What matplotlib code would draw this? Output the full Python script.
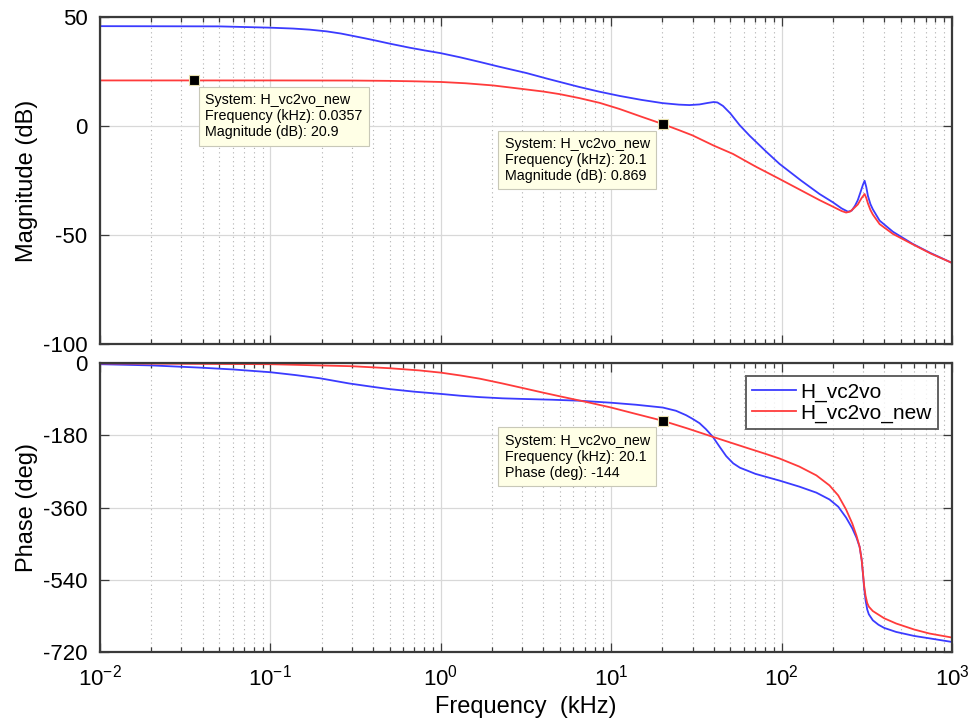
import numpy as np
import matplotlib
matplotlib.use("Agg")
import matplotlib.pyplot as plt
from matplotlib.ticker import LogLocator, NullFormatter, FixedLocator

plt.rcParams['font.family'] = ['Liberation Sans', 'DejaVu Sans']
plt.rcParams['mathtext.fontset'] = 'custom'
plt.rcParams['mathtext.rm'] = 'Liberation Sans'
plt.rcParams['axes.unicode_minus'] = False

# --- magnitude data (kHz, dB) ---
f_mag_old = [0.01, 0.05, 0.1, 0.136, 0.17, 0.214, 0.26, 0.306, 0.36, 0.42, 0.5, 0.658, 0.8,
             1, 1.3, 1.69, 2.2, 3.18, 4.17, 5, 6.5, 8.57, 11.2, 15, 20, 25, 28.8, 33, 37, 40,
             42, 45.3, 50, 56.7, 65, 81.3, 97.3, 130, 167, 200, 225, 245, 258, 270, 280, 290,
             300, 307, 314, 321, 332, 343, 376, 450, 589, 750, 1000]
mag_old = [45.8, 45.7, 45.1, 44.7, 44.2, 43.4, 42.4, 41.3, 40.2, 39.1, 37.8, 35.9, 34.7,
           33.4, 31.5, 29.4, 27.2, 24.3, 21.8, 20.2, 17.9, 15.7, 13.8, 12.0, 10.5, 9.8, 9.6,
           9.9, 10.6, 11.0, 10.8, 9.2, 5.8, 0.4, -4.5, -11.8, -17.4, -25.0, -31.2, -35.0,
           -37.8, -39.3, -38.8, -36.5, -34.0, -30.5, -27.0, -25.1, -28.0, -32.0, -35.8, -38.2,
           -43.4, -48.5, -54.1, -58.3, -62.8]

f_mag_new = [0.01, 0.0357, 0.1, 0.3, 0.5, 0.7, 1, 1.4, 2.03, 3, 4, 5, 6.5, 8.57, 11.2, 15,
             20.1, 25, 30, 40, 51.8, 70, 97.3, 130, 167, 200, 225, 239, 252, 265, 280, 295,
             307, 314, 321, 332, 343, 376, 450, 589, 750, 1000]
mag_new = [20.9, 20.9, 20.9, 20.85, 20.7, 20.5, 20.2, 19.6, 18.6, 17.0, 15.8, 14.6, 12.8,
           10.6, 7.8, 4.3, 0.87, -1.9, -4.3, -9.0, -12.8, -18.5, -24.3, -29.5, -34.0, -37.0,
           -39.0, -39.7, -39.3, -37.8, -36.0, -33.0, -31.2, -33.0, -35.5, -38.5, -40.6, -45.0,
           -49.5, -54.3, -58.5, -62.8]

# --- phase data (kHz, deg) ---
f_ph_old = [0.01, 0.02, 0.0386, 0.06, 0.1, 0.14, 0.195, 0.29, 0.4, 0.5, 0.7, 1, 1.3, 1.69,
            2.3, 3, 4.5, 6.53, 10, 14, 20.1, 24, 27.5, 30, 33, 36, 39.5, 43, 47.3, 52, 57, 62,
            70, 80, 97.3, 127, 160, 191, 215, 239, 260, 275, 287, 295, 300, 305, 311, 318,
            325, 343, 370, 400, 470, 600, 738, 1000]
ph_old = [-3, -6, -11.5, -16, -23, -30, -38, -51, -59.5, -65, -71.5, -77, -81.5, -85, -88,
          -89.5, -91.5, -94, -99, -104, -111, -119, -130, -139, -150, -165, -184, -207, -232,
          -250, -261, -267, -276, -283, -293, -308, -323, -340, -358, -385, -412, -435, -458,
          -490, -524, -560, -591, -614, -626, -641, -652, -660, -670, -680, -686, -695]

f_ph_new = [0.01, 0.1, 0.3, 0.5, 0.75, 1, 1.3, 1.69, 2.3, 3, 4, 5, 7.5, 10, 14, 20.1, 28,
            39.5, 60, 80, 97.3, 127, 160, 191, 215, 239, 260, 275, 287, 295, 300, 305, 311,
            318, 325, 343, 400, 470, 600, 738, 1000]
ph_new = [-1, -3, -8, -13, -18.5, -24, -31, -39, -51, -62, -74, -83, -99, -111, -127, -144,
          -163, -184, -209, -226, -238, -258, -280, -305, -330, -365, -400, -430, -458, -490,
          -522, -555, -580, -598, -607, -618, -636, -649, -664, -674, -684]

# datatips
tip_f = [0.0357, 20.1, 20.1]
tip_v = [20.9, 0.869, -144]
tip_txt = ["System: H_vc2vo_new\nFrequency (kHz): 0.0357\nMagnitude (dB): 20.9",
           "System: H_vc2vo_new\nFrequency (kHz): 20.1\nMagnitude (dB): 0.869",
           "System: H_vc2vo_new\nFrequency (kHz): 20.1\nPhase (deg): -144"]

blue = '#3b3bff'
red = '#ff3b3b'
frame = '#3a3a3a'

fig = plt.figure(figsize=(9.72, 7.19), dpi=100)
ax1 = fig.add_axes([100 / 972, 1 - 344 / 719, 852 / 972, 327 / 719])
ax2 = fig.add_axes([100 / 972, 1 - 652 / 719, 852 / 972, 289 / 719])

ax1.plot(f_mag_old, mag_old, color=blue, lw=1.3, label='H_vc2vo')
ax1.plot(f_mag_new, mag_new, color=red, lw=1.3, label='H_vc2vo_new')
ax2.plot(f_ph_old, ph_old, color=blue, lw=1.3, label='H_vc2vo')
ax2.plot(f_ph_new, ph_new, color=red, lw=1.3, label='H_vc2vo_new')

for ax in (ax1, ax2):
    ax.set_xscale('log')
    ax.set_xlim(0.01, 1000)
    ax.xaxis.set_major_locator(LogLocator(base=10, numticks=12))
    ax.xaxis.set_minor_locator(LogLocator(base=10, subs=np.arange(2, 10), numticks=12))
    ax.xaxis.set_minor_formatter(NullFormatter())
    ax.grid(True, which='major', color='#d8d8d8', lw=0.9, ls='-')
    ax.grid(True, which='minor', axis='x', color='#b0b0b0', lw=0.8, ls=(0, (1, 3)))
    ax.set_axisbelow(True)
    ax.tick_params(which='both', direction='in', top=True, right=True, colors=frame,
                   labelcolor='black', labelsize=16, pad=9)
    ax.tick_params(which='major', length=6.5, width=0.9)
    ax.tick_params(which='minor', length=3.5, width=0.9)
    for s in ax.spines.values():
        s.set_color(frame)
        s.set_linewidth(1.6)

ax1.set_ylim(-100, 50)
ax1.yaxis.set_major_locator(FixedLocator([-100, -50, 0, 50]))
ax1.tick_params(labelbottom=False)
ax1.set_ylabel('Magnitude (dB)', fontsize=17)
ax1.yaxis.set_label_coords(-0.073, 0.5)

ax2.set_ylim(-720, 0)
ax2.yaxis.set_major_locator(FixedLocator([-720, -540, -360, -180, 0]))
ax2.set_ylabel('Phase (deg)', fontsize=17)
ax2.yaxis.set_label_coords(-0.073, 0.5)
ax2.set_xlabel('Frequency  (kHz)', fontsize=17, labelpad=4)

leg = ax2.legend(loc='upper right', fontsize=15, frameon=True, fancybox=False,
                 borderpad=0.3, handlelength=2.1, handletextpad=0.25, labelspacing=0.1,
                 borderaxespad=0, bbox_to_anchor=(0.984, 0.955))
leg.get_frame().set_edgecolor(frame)
leg.get_frame().set_linewidth(1.4)

# datatips: marker + yellow box
tip_axes = [ax1, ax1, ax2]
tip_off = [(11, -13), (-13, -13), (-13, -13)]
tip_ha = ['left', 'right', 'right']
box = dict(boxstyle='square,pad=0.45', fc='#ffffe6', ec='#c8c8b8', lw=0.8)
for ax, f, v, t, off, ha in zip(tip_axes, tip_f, tip_v, tip_txt, tip_off, tip_ha):
    ax.plot([f], [v], marker='s', ms=7.5, color='black', mec='#e8e0b0', mew=0.8, zorder=5)
    ax.annotate(t, xy=(f, v), xytext=off, textcoords='offset pixels', ha=ha, va='top',
                multialignment='left', fontsize=10.3, linespacing=1.17, bbox=box, zorder=6)

fig.savefig('out.png', dpi=100)
